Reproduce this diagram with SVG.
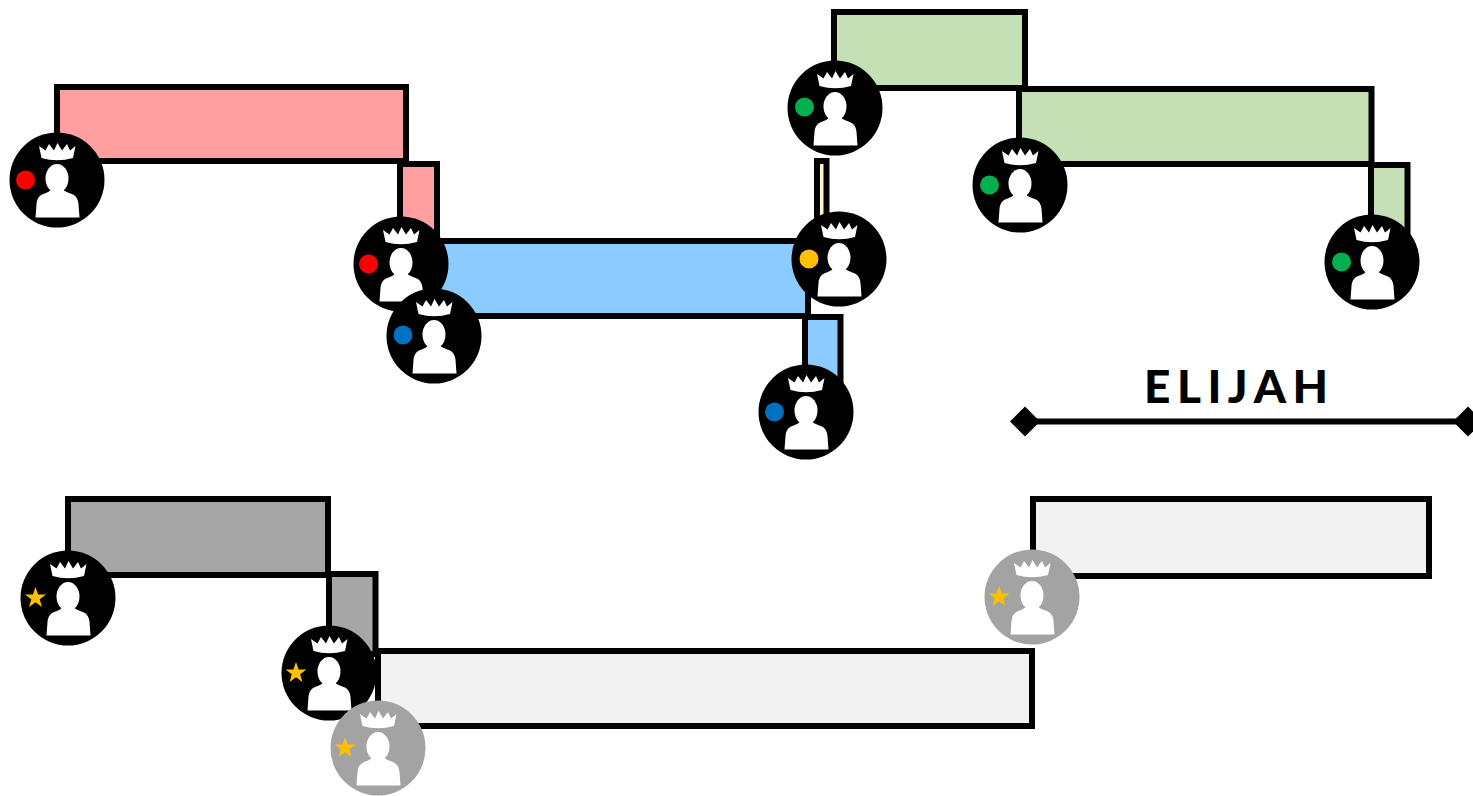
<svg xmlns="http://www.w3.org/2000/svg" xmlns:xlink="http://www.w3.org/1999/xlink" width="1473" height="796" viewBox="0 0 1473 796">
<style>
.b{stroke:#000;stroke-width:6;fill:none}
.pink{fill:#FF9F9F}.blue{fill:#8BCBFF}.green{fill:#C5E0B4}.cream{fill:#FFF2CC}.gray{fill:#A6A6A6}.light{fill:#F2F2F2}
.dim{fill:#A3A3A3}
.star{fill:#FFC000}
text{font-family:Lato,"Open Sans","Liberation Sans",sans-serif;font-weight:900;font-size:46px;letter-spacing:6.5px;fill:#000}
</style>
<defs>
<g id="person">
<circle r="47.5"/>
<path fill="#fff" d="M-18-34L-11.500-29.500L-8-36L-3-29.500L0.500-37L5-29.500L10-36L13-29.500L18.500-34L16-22Q0-17.500-15.500-22Z"/>
<ellipse fill="#fff" cx="0" cy="-1.500" rx="11.500" ry="14.500"/>
<path fill="#fff" d="M-6 8C-6 11-9 12-11 13C-17 14.500-20 18-20.500 24L-21.500 37.500L22.500 37.500L21.500 24C21 18 18 14.500 12 13C10 12 6 11 6 8Z"/>
</g>
<polygon id="starShape" class="star" points="0,-11 2.600,-3.400 10.500,-3.400 4.200,1.300 6.500,8.900 0,4.300 -6.500,8.900 -4.200,1.300 -10.500,-3.400 -2.600,-3.400"/>
</defs>
<g id="bars">
<rect class="b pink" x="57" y="87" width="349" height="74"/>
<rect class="b pink" x="400" y="164" width="37" height="78"/>
<rect class="b blue" x="434" y="241" width="374" height="75"/>
<rect class="b blue" x="805" y="317" width="35.500" height="75"/>
<rect class="b cream" x="817" y="161" width="9.500" height="60"/>
<rect class="b green" x="834" y="12" width="191" height="76"/>
<rect class="b green" x="1019" y="89" width="352.500" height="75"/>
<rect class="b green" x="1371" y="165" width="36.500" height="75"/>
<rect class="b gray" x="68" y="499" width="260" height="76"/>
<rect class="b gray" x="329" y="574" width="46.500" height="80"/>
<rect class="b light" x="378" y="651" width="654" height="75"/>
<rect class="b light" x="1033" y="499" width="396" height="77"/>
</g>
<g id="connectors">
<path stroke="#000" stroke-width="6" fill="none" d="M1025 421.500H1473"/>
<path d="M1025 406.500L1040 421.500L1025 436.500L1010 421.500Z"/>
<path d="M1468 406.500L1483 421.500L1468 436.500L1453 421.500Z"/>
</g>
<text id="label" x="1144" y="403">ELIJAH</text>
<g id="n1" transform="translate(57 180)"><use xlink:href="#person"/><circle cx="-31.500" cy="0" r="9.500" fill="#F00"/></g>
<g id="n2" transform="translate(401 264)"><use xlink:href="#person"/><circle cx="-32.500" cy="0" r="9.500" fill="#F00"/></g>
<g id="n3" transform="translate(434 336)"><use xlink:href="#person"/><circle cx="-31" cy="-1" r="9.500" fill="#0070C0"/></g>
<g id="n4" transform="translate(806 412)"><use xlink:href="#person"/><circle cx="-31.500" cy="0" r="9.500" fill="#0070C0"/></g>
<g id="n5" transform="translate(839 259)"><use xlink:href="#person"/><circle cx="-30" cy="0" r="9.500" fill="#FFC000"/></g>
<g id="n6" transform="translate(835 108)"><use xlink:href="#person"/><circle cx="-30.500" cy="-1" r="9.500" fill="#00B050"/></g>
<g id="n7" transform="translate(1020 185)"><use xlink:href="#person"/><circle cx="-30.500" cy="0" r="9.500" fill="#00B050"/></g>
<g id="n8" transform="translate(1372 262)"><use xlink:href="#person"/><circle cx="-30.500" cy="0" r="9.500" fill="#00B050"/></g>
<g id="n9" transform="translate(68 598)"><use xlink:href="#person"/><use xlink:href="#starShape" x="-32.500" y="0"/></g>
<g id="n10" transform="translate(329 673)"><use xlink:href="#person"/><use xlink:href="#starShape" x="-33" y="0"/></g>
<g id="n11" class="dim" transform="translate(378 748)"><use xlink:href="#person"/><use xlink:href="#starShape" x="-33" y="0"/></g>
<g id="n12" class="dim" transform="translate(1032 597)"><use xlink:href="#person"/><use xlink:href="#starShape" x="-33" y="0"/></g>
</svg>
